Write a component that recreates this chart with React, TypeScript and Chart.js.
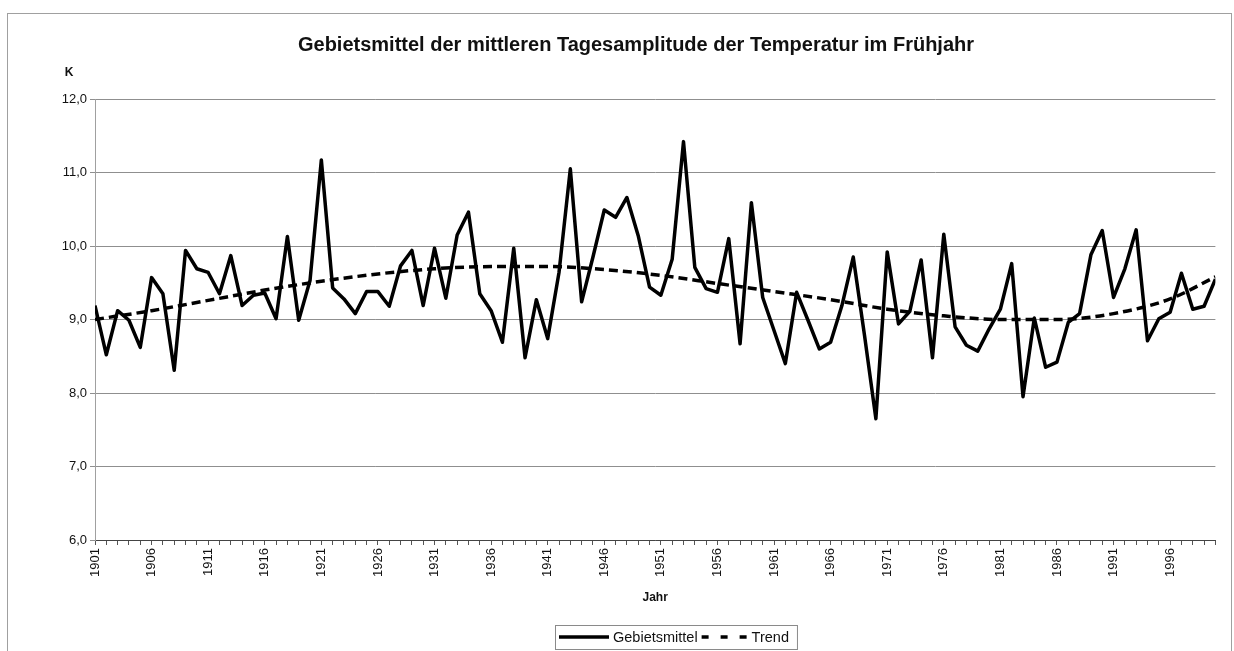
import React, { useEffect, useRef } from 'react';
import { Chart, registerables } from 'chart.js';

Chart.register(...registerables);

const TITLE = 'Gebietsmittel der mittleren Tagesamplitude der Temperatur im Frühjahr';
const Y_UNIT = 'K';
const X_TITLE = 'Jahr';
const SERIES_LABEL = 'Gebietsmittel';
const TREND_LABEL = 'Trend';

const firstYear = 1901;

// Gebietsmittel, 1901 ... 2000 (K)
const meanValues = [
  9.19, 8.52, 9.12, 8.99, 8.62, 9.57, 9.35, 8.31, 9.94, 9.69,
  9.64, 9.35, 9.87, 9.19, 9.33, 9.36, 9.01, 10.13, 8.99, 9.53,
  11.17, 9.43, 9.28, 9.08, 9.38, 9.38, 9.18, 9.73, 9.94, 9.19,
  9.97, 9.29, 10.15, 10.46, 9.35, 9.12, 8.69, 9.97, 8.48, 9.27,
  8.74, 9.64, 11.05, 9.24, 9.85, 10.49, 10.39, 10.66, 10.14, 9.44,
  9.33, 9.82, 11.42, 9.71, 9.42, 9.37, 10.10, 8.67, 10.59, 9.30,
  8.85, 8.40, 9.37, 8.99, 8.60, 8.69, 9.19, 9.85, 8.78, 7.65,
  9.92, 8.94, 9.11, 9.81, 8.48, 10.16, 8.90, 8.65, 8.57, 8.87,
  9.14, 9.76, 7.95, 9.02, 8.35, 8.42, 8.96, 9.08, 9.88, 10.21,
  9.30, 9.69, 10.22, 8.71, 9.01, 9.10, 9.63, 9.14, 9.18, 9.55,
];

// Trend curve, read at these years
const trendYears = [1901, 1906, 1911, 1916, 1921, 1926, 1931, 1936, 1941, 1946, 1951, 1956, 1961, 1966, 1971, 1976, 1981, 1986, 1991, 1996, 2000];
const trendValues = [9.00, 9.12, 9.26, 9.40, 9.52, 9.62, 9.69, 9.72, 9.72, 9.68, 9.60, 9.49, 9.38, 9.27, 9.14, 9.05, 9.00, 9.00, 9.08, 9.28, 9.58];

const yTicks = [6, 7, 8, 9, 10, 11, 12];

const FONT = '"Liberation Sans", Arial, Helvetica, sans-serif';

const W = 1234;
const H = 651;
const AREA = { left: 95, right: 1228, top: 99, bottom: 540 };

const decorPlugin = {
  id: 'decor',
  afterDraw(chart: any) {
    const ctx = chart.ctx as CanvasRenderingContext2D;
    const area = chart.chartArea;
    ctx.save();
    // outer chart border
    ctx.strokeStyle = '#a0a0a0';
    ctx.lineWidth = 1;
    ctx.strokeRect(7.5, 13.5, W - 10, H);

    ctx.fillStyle = '#111';
    ctx.textBaseline = 'middle';
    ctx.textAlign = 'center';
    ctx.font = `bold 20px ${FONT}`;
    ctx.fillText(TITLE, 636, 45);

    ctx.font = `bold 12px ${FONT}`;
    ctx.fillText(Y_UNIT, 69, 73);
    ctx.fillText(X_TITLE, (area.left + area.right) / 2, 598);

    // legend
    const ds = chart.data.datasets;
    ctx.font = `14.5px ${FONT}`;
    const lineLens = [50, 45];
    const legendDash = [[], [7, 12]];
    const gapsBefore = [4, 5];
    const gapsAfter = [4, 8];
    const x0 = 555;
    const y0 = 625;
    const h = 24;
    const cy = y0 + h / 2;
    let x = x0 + 4;
    ds.forEach((d: any, i: number) => {
      ctx.strokeStyle = '#000';
      ctx.lineWidth = 3.5;
      ctx.setLineDash(legendDash[i] || []);
      ctx.beginPath();
      ctx.moveTo(x, cy);
      ctx.lineTo(x + lineLens[i], cy);
      ctx.stroke();
      ctx.setLineDash([]);
      x += lineLens[i] + gapsBefore[i];
      ctx.textAlign = 'left';
      ctx.fillStyle = '#111';
      ctx.fillText(d.label, x, cy + 1);
      x += ctx.measureText(d.label).width + gapsAfter[i];
    });
    ctx.strokeStyle = '#8a8a8a';
    ctx.lineWidth = 1;
    ctx.strokeRect(x0 + 0.5, y0 + 0.5, x - x0, h);
    ctx.restore();
  },
};

export default function App() {
  const ref = useRef<HTMLCanvasElement | null>(null);

  useEffect(() => {
    document.body.style.margin = '0';
    const canvas = ref.current;
    if (!canvas) return;

    const mainData = meanValues.map((v, i) => ({ x: firstYear + i, y: v }));
    const trendData = trendYears.map((yr, i) => ({ x: yr, y: trendValues[i] }));

    const chart = new Chart(canvas, {
      type: 'line',
      data: {
        datasets: [
          {
            label: SERIES_LABEL,
            data: mainData,
            borderColor: '#000',
            borderWidth: 3.5,
            pointRadius: 0,
            tension: 0,
            borderJoinStyle: 'round',
          },
          {
            label: TREND_LABEL,
            data: trendData,
            borderColor: '#000',
            borderWidth: 3.5,
            borderDash: [9, 5],
            pointRadius: 0,
            cubicInterpolationMode: 'monotone',
          },
        ],
      },
      options: {
        responsive: false,
        maintainAspectRatio: false,
        devicePixelRatio: 1,
        animation: false,
        layout: { padding: { left: 0, right: W - AREA.right, top: AREA.top, bottom: 0 } },
        plugins: {
          legend: { display: false },
          tooltip: { enabled: false },
          title: { display: false },
        },
        scales: {
          x: {
            type: 'linear',
            min: firstYear,
            max: firstYear + meanValues.length - 1,
            afterFit: (s: any) => {
              s.height = H - AREA.bottom;
            },
            ticks: {
              stepSize: 1,
              autoSkip: false,
              maxRotation: 90,
              minRotation: 90,
              padding: 3,
              color: '#111',
              font: { family: FONT, size: 13 },
              callback: (v: any) => ((Number(v) - firstYear) % 5 === 0 ? String(v) : ''),
            },
            grid: { drawOnChartArea: false, drawTicks: true, tickLength: 5, color: '#555' },
            border: { display: true, color: '#444', width: 1 },
          },
          y: {
            min: yTicks[0],
            max: yTicks[yTicks.length - 1],
            afterFit: (s: any) => {
              s.width = AREA.left;
            },
            afterBuildTicks: (s: any) => {
              s.ticks = yTicks.map((v) => ({ value: v }));
            },
            ticks: {
              padding: 3,
              color: '#111',
              font: { family: FONT, size: 13 },
              callback: (v: any) => Number(v).toFixed(1).replace('.', ','),
            },
            grid: { color: '#8f8f8f', lineWidth: 1, tickLength: 5 },
            border: { display: true, color: '#a0a0a0', width: 1 },
          },
        },
      },
      plugins: [decorPlugin],
    } as any);

    return () => chart.destroy();
  }, []);

  return (
    <div style={{ width: W, height: H, position: 'relative', background: '#fff' }}>
      <canvas ref={ref} width={W} height={H} style={{ display: 'block', width: W, height: H }} />
    </div>
  );
}
